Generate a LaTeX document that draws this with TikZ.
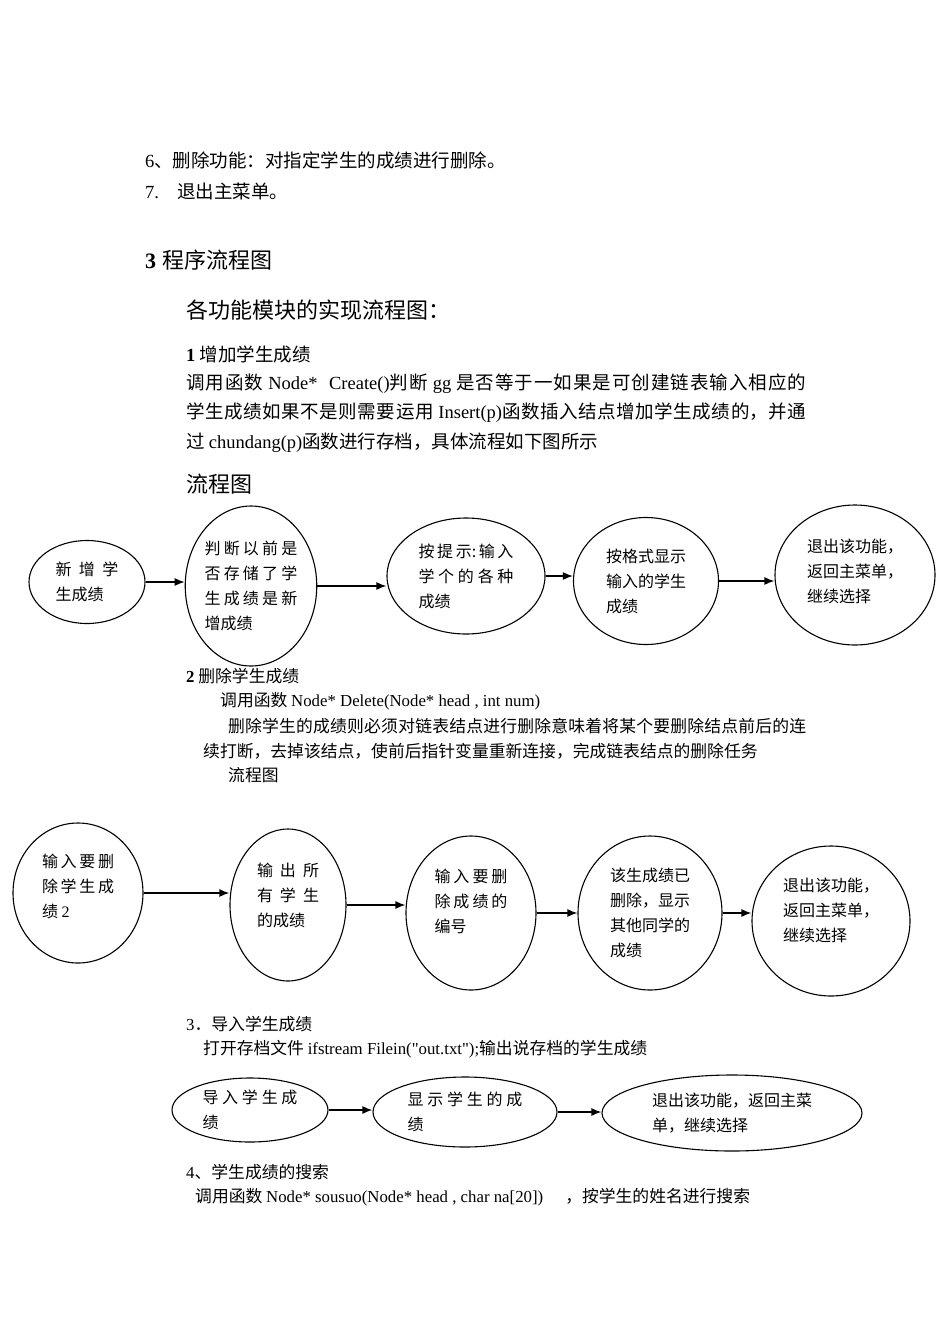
\documentclass[tikz,border=0pt]{standalone}
\usepackage{fontspec}
\setmainfont{Noto Sans CJK SC}
\newfontfamily\lat{Liberation Serif}
\usetikzlibrary{shapes.geometric,arrows.meta,positioning}
\XeTeXlinebreaklocale "zh"
\XeTeXlinebreakskip=0pt plus 2pt
\newcommand\sprd[2]{\parbox[b]{#1pt}{\tolerance=10000\hbadness=10000\parfillskip=0pt\relax #2}}
\newcommand\dn[1]{\rule[-#1pt]{0pt}{#1pt}}
\tikzset{
	every picture/.style={x=1pt, y=-1pt,},
	txt/.style={anchor=west, inner sep=0, font=\fontsize{18.5}{18.5}\selectfont,},
	small/.style={txt, font=\fontsize{16.8}{16.8}\selectfont,},
	head/.style={txt, font=\fontsize{22}{22}\selectfont,},
	lw/.style={line width=1.1pt,},
	%%%
	bub/.style={ellipse, draw, lw, inner sep=0, align=left, font=\fontsize{16}{25}\selectfont,},
	arr/.style={line width=1.5pt, -{Latex[length=10pt,width=8pt]},},
}

\begin{document}
\begin{tikzpicture}[]

	\useasboundingbox (0,0) rectangle (950,1344);

	%%% Text above the charts

	\node[txt] (t6) at (145,160) {{\lat 6}、删除功能：对指定学生的成绩进行删除。};
	\node[txt] (t7) at (145,191) {{\lat 7.}\hspace{18pt}退出主菜单。};
	\node[head] (t3) at (145,260) {{\lat\bfseries 3}\hspace{6pt}程序流程图};
	\node[head] (tall) at (186,310) {各功能模块的实现流程图：};
	\node[txt] (s1) at (186,354) {{\lat\bfseries 1} 增加学生成绩};
	\node[txt] (p1) at (186,384) {\sprd{620}{调用函数 {\lat Node*\ \ Create()}判断 {\lat gg} 是否等于一如果是可创建链表输入相应的}};
	\node[txt] (p2) at (186,413) {\sprd{620}{学生成绩如果不是则需要运用 {\lat Insert(p)}函数插入结点增加学生成绩的，并通}};
	\node[txt] (p3) at (186,443) {过 {\lat chundang(p)}函数进行存档，具体流程如下图所示};
	\node[head] (f1) at (186,484) {流程图};

	%%% Chart 1

	\node[bub, minimum width=116, minimum height=83] (A1) at (87,582) {\sprd{63}{新增学}\\生成绩};
	\node[bub, minimum width=128, minimum height=160] (A2) at (251,586) {\sprd{93}{判断以前是}\\\sprd{93}{否存储了学}\\\sprd{93}{生成绩是新}\\增成绩};
	\node[bub, minimum width=158, minimum height=116] (A3) at (466,576) {\sprd{95}{按提示:输入}\\\sprd{95}{学个的各种}\\成绩};
	\node[bub, minimum width=145, minimum height=127] (A4) at (646,581) {按格式显示\\输入的学生\\成绩};
	\node[bub, minimum width=160, minimum height=140] (A5) at (855,575) {退出该功能，\\返回主菜单，\\继续选择\dn{8}};

	\draw[arr] (A1.east) -- (A1.east -| A2.west);
	\draw[arr] (A2.east) -- (A2.east -| A3.west);
	\draw[arr] (A3.east) -- (A3.east -| A4.west);
	\draw[arr] (A4.east) -- (A4.east -| A5.west);

	%%% Text of part 2

	\node[small] (s2) at (186,676) {{\lat\bfseries 2} 删除学生成绩};
	\node[small] (q1) at (220,701) {调用函数 {\lat Node* Delete(Node* head , int num)}};
	\node[small] (q2) at (228,726) {\sprd{578}{删除学生的成绩则必须对链表结点进行删除意味着将某个要删除结点前后的连}};
	\node[small] (q3) at (203,751) {续打断，去掉该结点，使前后指针变量重新连接，完成链表结点的删除任务};
	\node[small] (f2) at (228,775) {流程图};

	%%% Chart 2

	\node[bub, minimum width=130, minimum height=140] (B1) at (78,893) {\sprd{72}{输入要删}\\\sprd{72}{除学生成}\\绩 {\lat 2}\dn{14}};
	\node[bub, minimum width=116, minimum height=152] (B2) at (288,905) {\sprd{62}{输出所}\\\sprd{62}{有学生}\\的成绩\dn{20}};
	\node[bub, minimum width=130, minimum height=154] (B3) at (471,913) {\sprd{73}{输入要删}\\\sprd{73}{除成绩的}\\编号\dn{24}};
	\node[bub, minimum width=144, minimum height=154] (B4) at (650,913) {该生成绩已\\删除，显示\\其他同学的\\成绩};
	\node[bub, minimum width=158, minimum height=150] (B5) at (831,921) {退出该功能，\\返回主菜单，\\继续选择\dn{22}};

	\draw[arr] (B1.east) -- (B1.east -| B2.west);
	\draw[arr] (B2.east) -- (B2.east -| B3.west);
	\draw[arr] (B3.east) -- (B3.east -| B4.west);
	\draw[arr] (B4.east) -- (B4.east -| B5.west);

	%%% Part 3

	\node[small] (s3) at (186,1024) {{\lat 3}．导入学生成绩};
	\node[small] (r1) at (203,1049) {打开存档文件 {\lat ifstream Filein("out.txt");}输出说存档的学生成绩};

	\node[bub, minimum width=156, minimum height=64] (C1) at (250,1110) {\sprd{95}{导入学生成}\\绩};
	\node[bub, minimum width=184, minimum height=70] (C2) at (465,1112) {\sprd{115}{显示学生的成}\\绩};
	\node[bub, minimum width=260, minimum height=76] (C3) at (732,1113) {退出该功能，返回主菜\\单，继续选择};

	\draw[arr] (C1.east) -- (C1.east -| C2.west);
	\draw[arr] (C2.east) -- (C2.east -| C3.west);

	%%% Part 4

	\node[small] (s4) at (186,1172) {{\lat 4}、学生成绩的搜索};
	\node[small] (u1) at (195,1197) {调用函数 {\lat Node* sousuo(Node* head , char na[20])}\hspace{22pt}，按学生的姓名进行搜索};

\end{tikzpicture}
\end{document}
